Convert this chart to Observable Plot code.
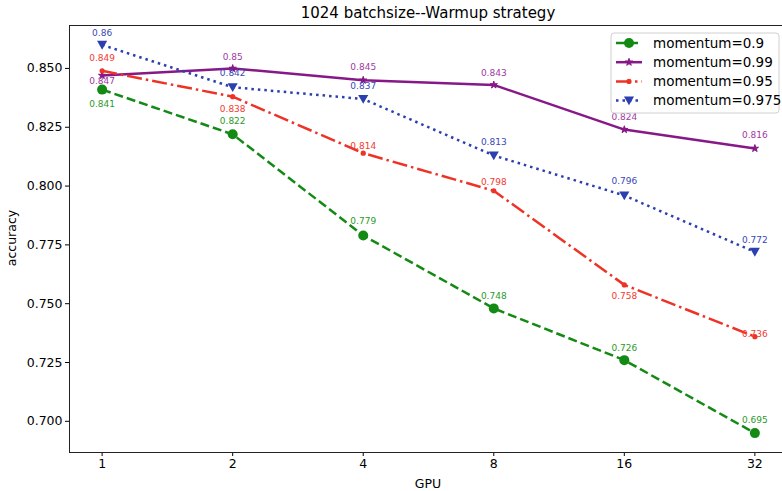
<!DOCTYPE html>
<html>
<head>
<meta charset="utf-8">
<script src="https://cdn.jsdelivr.net/npm/d3@7"></script>
<script src="https://cdn.jsdelivr.net/npm/@observablehq/plot@0.6"></script>
<style>
  html, body { margin: 0; padding: 0; background: #fff; overflow: hidden; }
  #chart svg { display: block; font-family: "DejaVu Sans", sans-serif; }
  #chart svg [aria-label$="tick label"] { font-size: 12.5px; font-family: "DejaVu Sans", sans-serif; }
</style>
</head>
<body>
<div id="chart"></div>
<script>
// ---- data ----
const gpus = [1, 2, 4, 8, 16, 32];
const seriesNames = ["momentum=0.9", "momentum=0.99", "momentum=0.95", "momentum=0.975"];
const acc_09  = [0.841, 0.822, 0.779, 0.748, 0.726, 0.695];
const acc_099 = [0.847, 0.850, 0.845, 0.843, 0.824, 0.816];
const acc_095 = [0.849, 0.838, 0.814, 0.798, 0.758, 0.736];
const acc_0975 = [0.860, 0.842, 0.837, 0.813, 0.796, 0.772];
const yTicks = [0.700, 0.725, 0.750, 0.775, 0.800, 0.825, 0.850];
const labelText_09  = ["0.841", "0.822", "0.779", "0.748", "0.726", "0.695"];
const labelText_099 = ["0.847", "0.85", "0.845", "0.843", "0.824", "0.816"];
const labelText_095 = ["0.849", "0.838", "0.814", "0.798", "0.758", "0.736"];
const labelText_0975 = ["0.86", "0.842", "0.837", "0.813", "0.796", "0.772"];

// ---- annotation placement (pixels, relative to the point) ----
const labelDy_09  = [15, -13, -14, -12, -12, -13];
const labelDy_099 = [6, -11, -13, -12, -12, -13];
const labelDy_095 = [-13, 12, -7, -9, 11, -3];
const labelDy_0975 = [-12, -14, -13, -13, -14, -12];

// ---- styles ----
const triangleDown = {
  draw(context, size) {
    const s = Math.sqrt(size);
    const hw = s * 0.62, top = s * 0.5, bot = s * 0.58;
    context.moveTo(-hw, -top);
    context.lineTo(hw, -top);
    context.lineTo(0, bot);
    context.closePath();
  }
};
const styles = [
  {name: seriesNames[0], values: acc_09, labels: labelText_09, dys: labelDy_09, color: "#138a13", text: "#2a9a2a", dash: "9,4", symbol: "circle", r: 5},
  {name: seriesNames[1], values: acc_099, labels: labelText_099, dys: labelDy_099, color: "#871887", text: "#a03aa0", dash: null, symbol: "star", r: 2.3},
  {name: seriesNames[2], values: acc_095, labels: labelText_095, dys: labelDy_095, color: "#ee3326", text: "#f43a30", dash: "15,4,2.5,4", symbol: "circle", r: 2.6},
  {name: seriesNames[3], values: acc_0975, labels: labelText_0975, dys: labelDy_0975, color: "#2b3fae", text: "#3848b8", dash: "2.5,4", symbol: triangleDown, r: 4.6}
];

const rows = styles.flatMap(s => gpus.map((g, i) => ({gpu: g, acc: s.values[i], series: s.name, label: s.labels[i], dy: s.dys[i]})));

const marks = [];
styles.forEach(s => {
  const data = rows.filter(d => d.series === s.name);
  marks.push(Plot.line(data, {x: "gpu", y: "acc", stroke: s.color, strokeWidth: 2.5,
    strokeDasharray: s.dash || undefined, strokeLinecap: "butt", strokeLinejoin: "round"}));
});
styles.forEach(s => {
  const data = rows.filter(d => d.series === s.name);
  marks.push(Plot.dot(data, {x: "gpu", y: "acc", symbol: () => s.symbol, r: s.r, fill: s.color, stroke: s.color, strokeWidth: s.symbol === "star" ? 1 : 0}));
});
styles.forEach(s => {
  rows.filter(d => d.series === s.name).forEach(d => {
    marks.push(Plot.text([d], {x: "gpu", y: "acc", text: "label", dy: d.dy, fill: s.text, fontSize: 9, fontFamily: "DejaVu Sans"}));
  });
});
marks.push(Plot.frame({stroke: "#222", strokeWidth: 1}));

const chart = Plot.plot({
  width: 782,
  height: 491,
  marginLeft: 69,
  marginRight: -5,
  marginTop: 25,
  marginBottom: 39,
  style: {fontFamily: "DejaVu Sans", fontSize: "12.5px", color: "#000", background: "#fff", overflow: "visible"},
  x: {type: "log", base: 2, domain: [Math.pow(2, -0.25), Math.pow(2, 5.25)], ticks: gpus, tickFormat: d => String(d), tickSize: 4, tickPadding: 3, label: null},
  y: {domain: [0.68675, 0.86825], ticks: yTicks, tickFormat: d3.format(".3f"), tickSize: 4, tickPadding: 3, label: null},
  symbol: {type: "identity"},
  marks: [
    Plot.axisX({ticks: gpus, tickFormat: d => String(d), tickSize: 4, tickPadding: 3, fontSize: 12.5, label: null}),
    Plot.axisY({ticks: yTicks, tickFormat: d3.format(".3f"), tickSize: 4, tickPadding: 3, fontSize: 12.5, label: null}),
    ...marks
  ]
});
document.getElementById("chart").appendChild(chart);

// ---- title, axis labels, legend ----
const svg = d3.select(chart);
svg.append("text").attr("x", 428).attr("y", 18).attr("text-anchor", "middle")
  .attr("font-size", 15).attr("fill", "#000").text("1024 batchsize--Warmup strategy");
svg.append("text").attr("x", 428).attr("y", 488).attr("text-anchor", "middle")
  .attr("font-size", 12.5).attr("fill", "#000").text("GPU");
svg.append("text").attr("transform", "translate(16,238) rotate(-90)").attr("text-anchor", "middle")
  .attr("font-size", 12.5).attr("fill", "#000").text("accuracy");

const lg = svg.append("g");
lg.append("rect").attr("x", 611).attr("y", 33).attr("width", 168).attr("height", 80).attr("rx", 3)
  .attr("fill", "#fff").attr("fill-opacity", 0.85).attr("stroke", "#d0d0d0").attr("stroke-width", 1);
styles.forEach((s, i) => {
  const cy = 43 + i * 19.2;
  lg.append("line").attr("x1", 616).attr("x2", 642).attr("y1", cy).attr("y2", cy)
    .attr("stroke", s.color).attr("stroke-width", 2.5).attr("stroke-dasharray", s.dash || null);
  const type = s.symbol === "circle" ? d3.symbolCircle : s.symbol === "star" ? d3.symbolStar : s.symbol;
  lg.append("path").attr("transform", `translate(629,${cy})`)
    .attr("d", d3.symbol().type(type).size(Math.PI * s.r * s.r)())
    .attr("fill", s.color).attr("stroke", s.color).attr("stroke-width", s.symbol === "star" ? 1 : 0);
  lg.append("text").attr("x", 653).attr("y", cy + 4.6).attr("text-anchor", "start")
    .attr("font-size", 13.5).attr("fill", "#000").text(s.name);
});
</script>
</body>
</html>
